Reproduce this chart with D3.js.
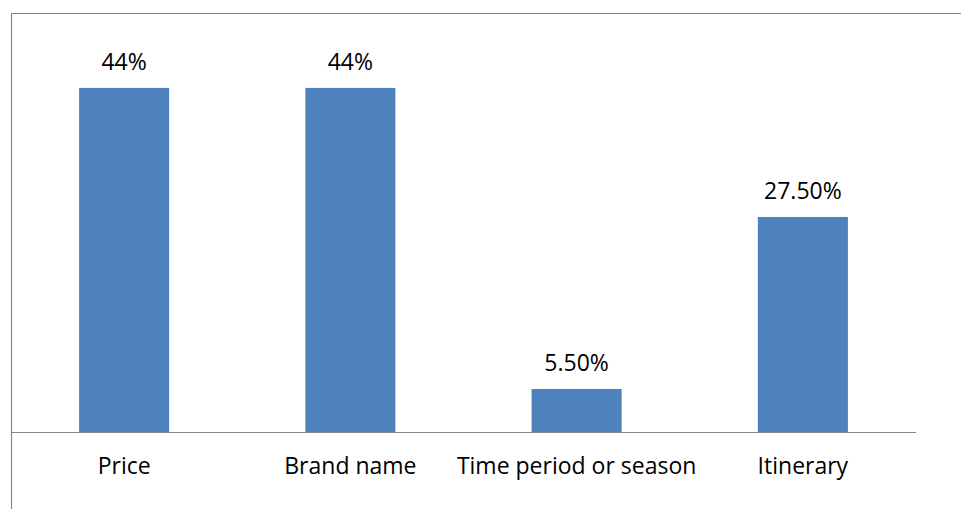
<!DOCTYPE html>
<html><head><meta charset="utf-8">
<script src="https://cdn.jsdelivr.net/npm/d3@7"></script>
<style>
html,body{margin:0;padding:0;background:#fff;}
svg{display:block;}
text{font-family:"Open Sans",sans-serif;fill:#000;}
</style></head>
<body><svg id="c" width="961" height="509"></svg>
<script>
const categories = ["Price","Brand name","Time period or season","Itinerary"];
const values = [44, 44, 5.5, 27.5];
const valueLabels = ["44%","44%","5.50%","27.50%"];

(function(){
const svg = d3.select("#c");
const W = 961, H = 509;
const mLeft = 11, mRight = 916, mBase = 432, mTop = 13;
const FONT = '"Open Sans",sans-serif';

const x = d3.scaleBand().domain(categories).range([mLeft, mRight]).paddingInner(0.602).paddingOuter(0.301);
const y = d3.scaleLinear().domain([0, 50]).range([mBase, mBase - 391]);

const data = categories.map((c,i)=>({c, v:values[i], l:valueLabels[i]}));

svg.append("line").attr("x1",mLeft+0.5).attr("x2",mLeft+0.5).attr("y1",mTop).attr("y2",H).attr("stroke","#868686").attr("stroke-width",1.2);
svg.append("line").attr("x1",mLeft).attr("x2",W).attr("y1",mTop+0.5).attr("y2",mTop+0.5).attr("stroke","#868686").attr("stroke-width",1.2);

svg.selectAll("rect.bar").data(data).join("rect").attr("class","bar")
  .attr("x",d=>x(d.c)).attr("width",x.bandwidth())
  .attr("y",d=>y(d.v)).attr("height",d=>y(0)-y(d.v))
  .attr("fill","#4F81BD");

const ax = svg.append("g").attr("transform",`translate(0,${mBase})`)
  .call(d3.axisBottom(x).tickSize(0).tickPadding(0));
ax.select(".domain").attr("stroke","#868686").attr("stroke-width",1.2).attr("d",`M${mLeft},0.5H${mRight}`);
ax.selectAll(".tick text").attr("y",42).attr("dy",0)
  .style("font-size","23px").style("font-family",FONT).attr("fill","#000");

svg.selectAll("text.val").data(data).join("text").attr("class","val")
  .attr("x",d=>x(d.c)+x.bandwidth()/2).attr("y",d=>y(d.v)-18)
  .attr("text-anchor","middle").style("font-size","23px").style("font-family",FONT).text(d=>d.l);
})();
</script></body></html>
